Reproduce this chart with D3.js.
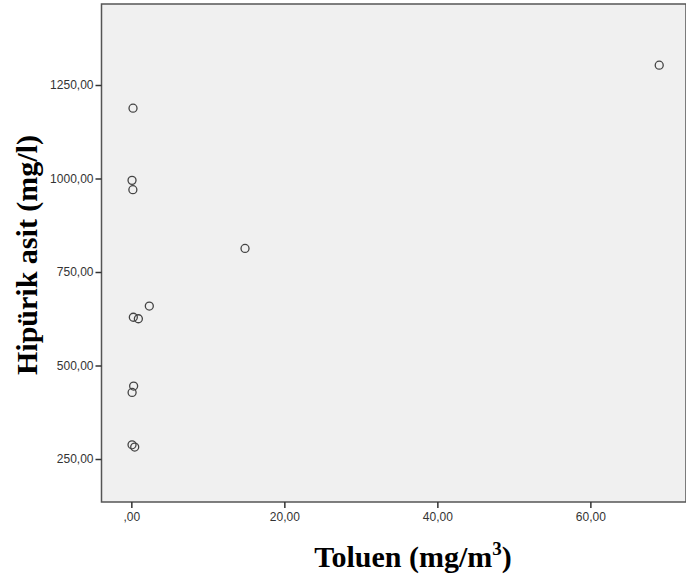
<!DOCTYPE html>
<html><head><meta charset="utf-8">
<script src="https://cdn.jsdelivr.net/npm/d3@7"></script>
<style>body{margin:0;background:#fff}svg{display:block}</style>
</head><body>
<script>
const toluen = [69.0, 0.22, 0.09, 0.2, 2.35, 0.26, 0.92, 0.3, 0.1, 0.09, 0.44, 14.86];
const hipurik = [1303, 1188, 995, 970, 659, 629, 625, 445, 428, 288, 282, 813];
const xTicks = [0, 20, 40, 60];
const yTicks = [250, 500, 750, 1000, 1250];
const xTitle = "Toluen (mg/m";
const yTitle = "Hipürik asit (mg/l)";

const W = 686, H = 583;
const L = 101.5, R = 686, T = 4, B = 502;
const svg = d3.select("body").append("svg").attr("width", W).attr("height", H);
const x = d3.scaleLinear().domain([-3.9, 72.5]).range([L, R]);
const y = d3.scaleLinear().domain([250, 1250]).range([459, 85]);
const fmt = v => (v === 0 ? ",00" : d3.format("d")(v) + ",00");

svg.append("rect").attr("x", L).attr("y", T).attr("width", R - L).attr("height", B - T)
  .attr("fill", "#f0f0f0").attr("stroke", "#555").attr("stroke-width", 1.5);

const gx = svg.append("g").attr("transform", `translate(0,${B})`)
  .call(d3.axisBottom(x).tickValues(xTicks).tickFormat(fmt).tickSize(6).tickPadding(4));
const gy = svg.append("g").attr("transform", `translate(${L},0)`)
  .call(d3.axisLeft(y).tickValues(yTicks).tickFormat(fmt).tickSize(6).tickPadding(2));
[gx, gy].forEach(g => {
  g.select(".domain").remove();
  g.selectAll("line").attr("stroke", "#333").attr("stroke-width", 1.5);
  g.selectAll("text").attr("font-family", "Arial, 'Liberation Sans', sans-serif")
    .attr("font-size", 12).attr("fill", "#333");
});

svg.append("g").selectAll("circle").data(toluen.map((d, i) => [d, hipurik[i]])).join("circle")
  .attr("cx", d => x(d[0])).attr("cy", d => y(d[1])).attr("r", 4)
  .attr("fill", "none").attr("stroke", "#444").attr("stroke-width", 1.3);

const tx = svg.append("text").attr("x", 413).attr("y", 567).attr("text-anchor", "middle")
  .attr("font-family", "'Liberation Serif', 'Times New Roman', serif").attr("font-weight", "bold")
  .attr("font-size", 30).attr("fill", "#000");
tx.append("tspan").text(xTitle);
tx.append("tspan").attr("font-size", 19).attr("dy", -12).text("3");
tx.append("tspan").attr("dy", 12).text(")");

svg.append("text").attr("transform", "translate(37,255) rotate(-90)").attr("text-anchor", "middle")
  .attr("font-family", "'Liberation Serif', 'Times New Roman', serif").attr("font-weight", "bold")
  .attr("font-size", 30).attr("fill", "#000").text(yTitle);
</script>
</body></html>
